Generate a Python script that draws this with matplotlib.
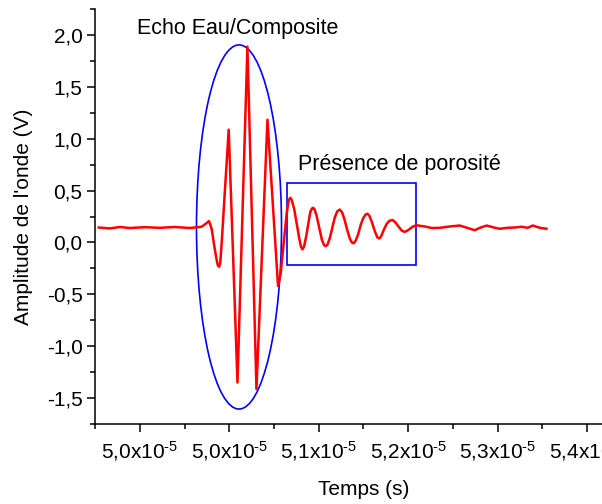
import numpy as np
import matplotlib
matplotlib.use("Agg")
import matplotlib.pyplot as plt
from matplotlib.patches import Ellipse, Rectangle

# signal (time in units of 1e-5 s, amplitude in V)
t_avant = [4.9042, 4.9165, 4.9277, 4.9388, 4.9556, 4.9723, 4.9891, 5.0059, 5.0170, 5.0193]
v_avant = [0.144, 0.135, 0.149, 0.139, 0.147, 0.141, 0.149, 0.139, 0.149, 0.152]

t_echo = [5.0226, 5.0274, 5.0304, 5.0332, 5.0355, 5.0372, 5.0386, 5.0399, 5.0416, 5.0450,
          5.0494, 5.0592, 5.0703, 5.0804, 5.0927, 5.1045]
v_echo = [0.173, 0.205, 0.13, -0.03, -0.15, -0.22, -0.234, -0.2, 0.0, 0.48,
          1.087, -1.35, 1.888, -1.413, 1.183, -0.42]

t_poro = [5.1075, 5.1109, 5.1142, 5.1165, 5.1182, 5.1198, 5.1226, 5.1254, 5.1282, 5.1301,
          5.1318, 5.1336, 5.1360, 5.1383, 5.1405, 5.1422, 5.1436, 5.1453, 5.1475, 5.1506,
          5.1534, 5.1559, 5.1578, 5.1598, 5.1623, 5.1651, 5.1679, 5.1707, 5.1735, 5.1761,
          5.1788, 5.1818, 5.1846, 5.1869, 5.1891, 5.1914, 5.1941, 5.1969, 5.1997, 5.2025,
          5.2044, 5.2064, 5.2092, 5.2126, 5.2154, 5.2176, 5.2198, 5.2226, 5.2260, 5.2293,
          5.2327, 5.2360, 5.2394, 5.2427, 5.2455, 5.2483, 5.2517, 5.2550, 5.2592]
v_poro = [-0.30, 0.0, 0.28, 0.41, 0.43, 0.41, 0.32, 0.18, 0.04, -0.04,
          -0.067, -0.04, 0.06, 0.18, 0.29, 0.325, 0.334, 0.32, 0.26, 0.14,
          0.03, -0.025, -0.036, -0.02, 0.04, 0.14, 0.24, 0.30, 0.317, 0.29,
          0.22, 0.12, 0.04, 0.0, -0.008, 0.02, 0.08, 0.17, 0.235, 0.27,
          0.276, 0.26, 0.20, 0.11, 0.05, 0.038, 0.06, 0.12, 0.18, 0.21,
          0.215, 0.19, 0.15, 0.115, 0.102, 0.11, 0.13, 0.152, 0.165]

t_apres = [5.2684, 5.2763, 5.2852, 5.2964, 5.3075, 5.3165, 5.3243, 5.3310, 5.3377, 5.3455,
           5.3522, 5.3612, 5.3690, 5.3768, 5.3835, 5.3891, 5.3969, 5.4044]
v_apres = [0.154, 0.139, 0.141, 0.154, 0.163, 0.139, 0.118, 0.144, 0.163, 0.144,
           0.132, 0.141, 0.144, 0.151, 0.141, 0.163, 0.141, 0.132]

xticks = [4.95, 5.05, 5.15, 5.25, 5.35, 5.45]
xticklabels = ["5,0", "5,0", "5,1", "5,2", "5,3", "5,4"]
yticks = [-1.5, -1.0, -0.5, 0.0, 0.5, 1.0, 1.5, 2.0]
yticklabels = ["-1,5", "-1,0", "-0,5", "0,0", "0,5", "1,0", "1,5", "2,0"]

plt.rcParams['font.family'] = ['Liberation Sans', 'DejaVu Sans']
plt.rcParams['mathtext.fontset'] = 'custom'
plt.rcParams['mathtext.rm'] = 'Liberation Sans'
plt.rcParams['mathtext.default'] = 'regular'

t = np.concatenate([t_avant, t_echo, t_poro, t_apres]) * 1e-5
v = np.concatenate([v_avant, v_echo, v_poro, v_apres])

fig = plt.figure(figsize=(6.02, 5.04), dpi=100)
ax = fig.add_axes([95/602, 80/504, 537/602, 415/504])

ax.plot(t, v, color='#ff0000', lw=1.8)

# annotations
ax.add_patch(Ellipse((5.0609e-5, 0.149), 0.095e-5, 3.51, fill=False, ec='#0000ff', lw=1.2))
ax.add_patch(Rectangle((5.1146e-5, -0.221), 0.1446e-5, 0.795, fill=False, ec='#0000ff', lw=1.2))
ax.text(4.9466e-5, 2.06, "Echo Eau/Composite", fontsize=15.5, va='center', ha='left')
ax.text(5.1265e-5, 0.75, "Présence de porosité", fontsize=15.5, va='center', ha='left')

ax.set_xlim(4.90e-5, 5.50e-5)
ax.set_ylim(-1.75, 2.25)
ax.set_xticks(np.array(xticks) * 1e-5)
ax.set_xticklabels([s + "x10$^{\u20105}$" for s in xticklabels])
ax.set_xticks(np.arange(4.90, 5.51, 0.1) * 1e-5, minor=True)
ax.set_yticks(yticks)
ax.set_yticklabels(yticklabels)
ax.set_yticks(np.arange(-1.75, 2.26, 0.5), minor=True)

for s in ['top', 'right']:
    ax.spines[s].set_visible(False)
for s in ['left', 'bottom']:
    ax.spines[s].set_linewidth(1.1)
ax.tick_params(which='major', direction='out', length=6, width=1.1, labelsize=15)
ax.tick_params(which='minor', direction='out', length=3.5, width=1.1)
ax.tick_params(axis='x', which='major', pad=5)
ax.tick_params(axis='y', which='major', pad=3)

ax.set_xlabel("Temps (s)", fontsize=15)
ax.set_ylabel("Amplitude de l'onde (V)", fontsize=15)
ax.xaxis.set_label_coords(0.5, -0.135)
ax.yaxis.set_label_coords(-0.1155, 0.5)

fig.savefig("out.png", dpi=100)
